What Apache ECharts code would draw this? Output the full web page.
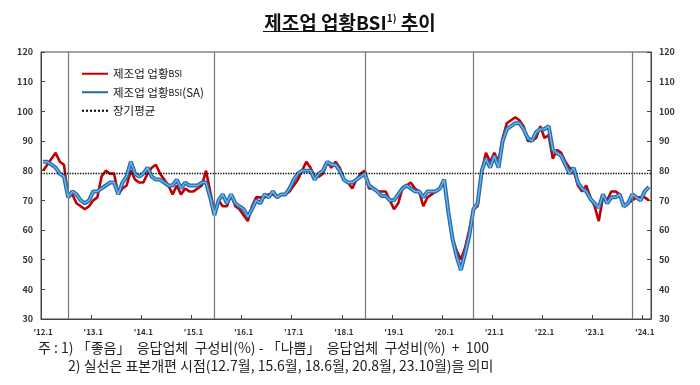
<!DOCTYPE html>
<html><head><meta charset="utf-8">
<script src="https://cdn.jsdelivr.net/npm/echarts@6/dist/echarts.min.js"></script>
<style>html,body{margin:0;padding:0;background:#fff}#c{width:700px;height:385px}</style>
</head><body><div id="c"></div>
<script>
// Categories: monthly, 2012.1 - 2024.2 (tick labels like '12.1)
const categories = [];
for (let y = 12; y <= 24; y++) {
  for (let m = 1; m <= 12; m++) {
    if (y === 24 && m > 2) break;
    categories.push("'" + y + "." + m);
  }
}
// 제조업 업황BSI (original)
const bsi = [
  80, 82, 84, 86, 83, 82, 71, 72, 69, 68, 67, 68,   // 2012
  70, 71, 78, 80, 79, 79, 72, 74, 75, 80, 77, 76,   // 2013
  76, 79, 81, 82, 79, 77, 75, 72, 75, 72, 74, 73,   // 2014
  73, 74, 75, 80, 73, 66, 70, 68, 68, 72, 68, 67,   // 2015
  65, 63, 68, 71, 71, 71, 72, 72, 71, 72, 72, 73,   // 2016
  75, 77, 80, 83, 81, 78, 78, 79, 83, 81, 83, 81,   // 2017
  77, 76, 74, 77, 79, 80, 74, 74, 73, 73, 73, 70,   // 2018
  67, 69, 74, 75, 76, 74, 73, 68, 71, 72, 73, 74,   // 2019
  77, 66, 57, 53, 50, 54, 60, 67, 68, 80, 86, 83,   // 2020
  86, 83, 91, 96, 97, 98, 97, 95, 90, 90, 91, 95,   // 2021
  91, 92, 84, 87, 86, 83, 81, 80, 75, 73, 75, 71,   // 2022
  68, 63, 71, 70, 73, 73, 72, 68, 69, 70, 71, 71,   // 2023
  71, 70                                            // 2024
];
// 제조업 업황BSI(SA)
const bsiSA = [
  83, 83, 82, 81, 79, 78, 71, 73, 72, 70, 69, 70,
  73, 73, 74, 75, 76, 76, 72, 76, 78, 83, 79, 78,
  79, 81, 78, 77, 77, 76, 75, 75, 77, 74, 76, 75,
  75, 75, 76, 76, 71, 65, 70, 72, 69, 72, 69, 68,
  67, 64.5, 67, 70, 69, 72, 71, 73, 71, 72, 72, 74,
  77, 79, 80, 80, 80, 77, 79, 80, 83, 82, 82, 80,
  77, 76, 76, 77, 78, 79, 75, 74, 73, 71.5, 71.5, 70,
  70, 72, 74, 75, 74, 73, 73, 71, 73, 73, 73, 74,
  77, 66, 57, 51, 46.5, 52, 58, 67, 69, 80, 84, 81,
  85, 81, 90, 94, 95, 96, 96, 94, 91, 90, 93, 94,
  94, 95, 87, 86, 85, 82, 79, 81, 76, 74, 73, 70.5,
  69, 67.5, 72, 69, 71, 71, 72, 68, 69, 72, 71, 70,
  73, 74.5
];
const longTermAvg = 79;
const revisionPoints = ["'12.7", "'15.6", "'18.6", "'20.8", "'23.10"];
const yMin = 30, yMax = 120, yStep = 10;

const FONT = "'Noto Sans CJK KR', 'Noto Sans', sans-serif";
const chart = echarts.init(document.getElementById('c'));
const axisLabelStyle = { fontSize: 9, fontWeight: 'bold', color: '#333', fontFamily: FONT };
const yAxisBase = {
  type: 'value', min: yMin, max: yMax, interval: yStep,
  axisLine: { show: true, lineStyle: { color: '#444', width: 1 } },
  axisTick: { show: true, inside: true, length: 4, lineStyle: { color: '#444' } },
  splitLine: { show: false },
  axisLabel: Object.assign({ margin: 8 }, axisLabelStyle)
};
chart.setOption({
  animation: false,
  backgroundColor: '#fff',
  textStyle: { fontFamily: FONT },
  title: {
    text: '{a|제조업 업황BSI}{s|1)}{a| 추이}',
    left: 'center', top: 8,
    textStyle: {
      rich: {
        a: { fontSize: 19, fontWeight: 'bold', color: '#111', fontFamily: FONT },
        s: { fontSize: 10, fontWeight: 'bold', color: '#111', fontFamily: FONT, verticalAlign: 'top', padding: [0, 0, 10, 0] }
      }
    }
  },
  graphic: [
    { type: 'line', shape: { x1: 263, y1: 31.5, x2: 428, y2: 31.5 }, style: { stroke: '#111', lineWidth: 1.2 } },
    { type: 'text', left: 38, top: 341, style: { text: '주 : 1) 「좋음」  응답업체  구성비(%) - 「나쁨」  응답업체  구성비(%)  +  100', font: "14px " + FONT, fill: '#222' } },
    { type: 'text', left: 68, top: 359, style: { text: '2) 실선은 표본개편 시점(12.7월, 15.6월, 18.6월, 20.8월, 23.10월)을 의미', font: "14px " + FONT, fill: '#222' } }
  ],
  grid: { left: 41, right: 49, top: 52, bottom: 66, show: true, borderColor: '#444', borderWidth: 1 },
  legend: {
    data: ['제조업 업황BSI', '제조업 업황BSI(SA)', '장기평균'],
    orient: 'vertical', left: 76, top: 63, itemGap: 7,
    itemWidth: 26, itemHeight: 12,
    itemStyle: { opacity: 0 },
    formatter: n => n.replace('BSI', '{s|BSI}'),
    textStyle: {
      fontSize: 11.5, color: '#111', fontFamily: FONT,
      rich: { s: { fontSize: 9, color: '#111', fontFamily: FONT } }
    }
  },
  xAxis: {
    type: 'category', data: categories, boundaryGap: true,
    axisLine: { show: true, lineStyle: { color: '#444' } },
    axisTick: { show: true, inside: true, length: 4, interval: 11, lineStyle: { color: '#444' } },
    axisLabel: { interval: 11, margin: 9, fontSize: 8, fontWeight: 'bold', color: '#333', fontFamily: FONT },
    splitLine: { show: false }
  },
  yAxis: [
    Object.assign({ position: 'left' }, yAxisBase),
    Object.assign({ position: 'right' }, yAxisBase)
  ],
  series: [
    {
      name: '장기평균', type: 'line', data: [], symbol: 'none',
      lineStyle: { color: '#000', width: 1.3, type: 'dotted' }, itemStyle: { color: '#000' },
      markLine: {
        silent: true, symbol: 'none', label: { show: false },
        lineStyle: { color: '#000', width: 1.3, type: 'dotted' },
        data: [{ yAxis: longTermAvg }]
      },
      z: 1
    },
    {
      name: '제조업 업황BSI', type: 'line', data: bsi, symbol: 'none',
      lineStyle: { color: '#C00000', width: 2.6 }, itemStyle: { color: '#C00000' },
      markLine: {
        silent: true, symbol: 'none', label: { show: false },
        lineStyle: { color: '#777', width: 1.2, type: 'solid' },
        data: revisionPoints.map(p => ({ xAxis: p }))
      },
      z: 3
    },
    {
      name: '제조업 업황BSI(SA)', type: 'line', data: bsiSA, symbol: 'none',
      lineStyle: { color: '#1F6CB0', width: 4 }, itemStyle: { color: '#1F6CB0' },
      z: 4
    },
    {
      name: 'SA-highlight', type: 'line', data: bsiSA, symbol: 'none',
      lineStyle: { color: '#6FB3E8', width: 1.4 }, itemStyle: { color: '#6FB3E8' },
      z: 5, silent: true
    }
  ]
});
</script>
</body></html>
